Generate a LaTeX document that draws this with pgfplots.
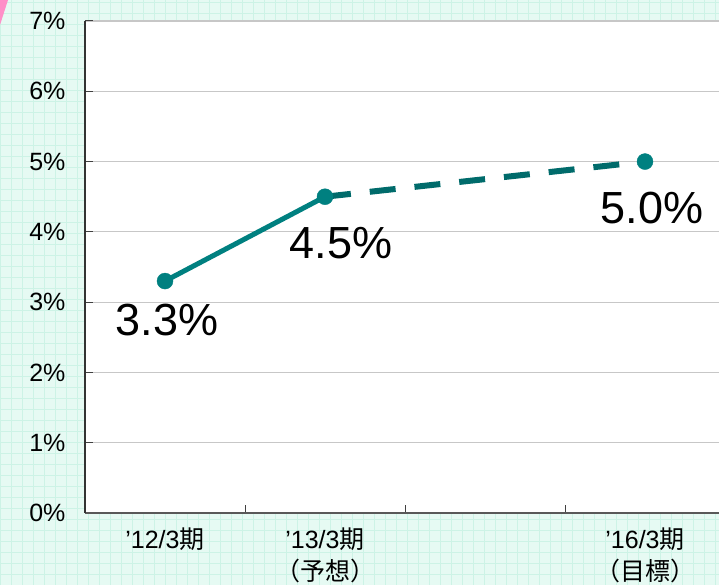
\documentclass[border=0pt]{standalone}
\usepackage{pgfplots}
\pgfplotsset{compat=1.18}
\usepackage{fontspec}
\setmainfont{Liberation Sans}
\newfontfamily\cjk{Noto Sans CJK JP}
\definecolor{mint}{HTML}{E6FAF3}
\definecolor{mintline}{HTML}{CDF3E6}
\definecolor{tealA}{HTML}{008080}
\definecolor{tealB}{HTML}{006B6B}
\definecolor{pinkA}{HTML}{FF8FC8}
\begin{document}
\begin{tikzpicture}[x=1pt,y=1pt]
\useasboundingbox (0,0) rectangle (719,585);
\clip (0,0) rectangle (719,585);
\fill[mint] (0,0) rectangle (719,585);
\draw[mintline, line width=0.7pt, step=11pt] (0,0) grid (719,585);
\fill[pinkA] (0,585) -- (8,585) -- (0,560) -- cycle;
\begin{axis}[
  at={(85pt,72pt)}, anchor=south west,
  scale only axis, width=640pt, height=492pt,
  xmin=-0.5, xmax=3.5, ymin=0, ymax=7,
  axis background/.style={fill=white},
  axis x line*=bottom, axis y line*=left,
  x axis line style={draw=black!65, line width=1.3pt, -},
  y axis line style={draw=black!80, line width=1.3pt, -},
  ytick={0,1,2,3,4,5,6,7},
  yticklabels={0\%,1\%,2\%,3\%,4\%,5\%,6\%,7\%},
  yticklabel style={font=\fontsize{25}{30}\selectfont, xshift=-16pt},
  xtick={0.5,1.5,2.5}, xticklabels={},
  extra x ticks={0,1,3},
  extra x tick labels={{’12/3{\cjk 期}},{’13/3{\cjk 期}\\{\cjk （予想）}},{’16/3{\cjk 期}\\{\cjk （目標）}}},
  extra x tick style={major tick length=0pt, grid=none},
  xticklabel style={font=\fontsize{25}{32}\selectfont, align=center, anchor=north, yshift=-11pt},
  tick align=inside, major tick length=8pt,
  tick style={draw=black!75, line width=1pt},
  ymajorgrids, major grid style={draw=black!22, line width=1.2pt},
  clip=false,
]
\addplot[draw=tealA, line width=5pt] coordinates {(0,3.3) (1,4.5)};
\addplot[draw=tealB, line width=6pt, dash pattern=on 26pt off 19pt] coordinates {(1,4.5) (3,5.0)};
\addplot[only marks, mark=*, mark size=8pt, mark options={fill=tealA, draw=tealA}] coordinates {(0,3.3) (1,4.5) (3,5.0)};
\node[font=\fontsize{45}{45}\selectfont, inner sep=0pt] at (axis cs:0.0125,2.746) {3.3\%};
\node[font=\fontsize{45}{45}\selectfont, inner sep=0pt] at (axis cs:1.1,3.84) {4.5\%};
\node[font=\fontsize{45}{45}\selectfont, inner sep=0pt] at (axis cs:3.044,4.34) {5.0\%};
\end{axis}
\end{tikzpicture}
\end{document}
